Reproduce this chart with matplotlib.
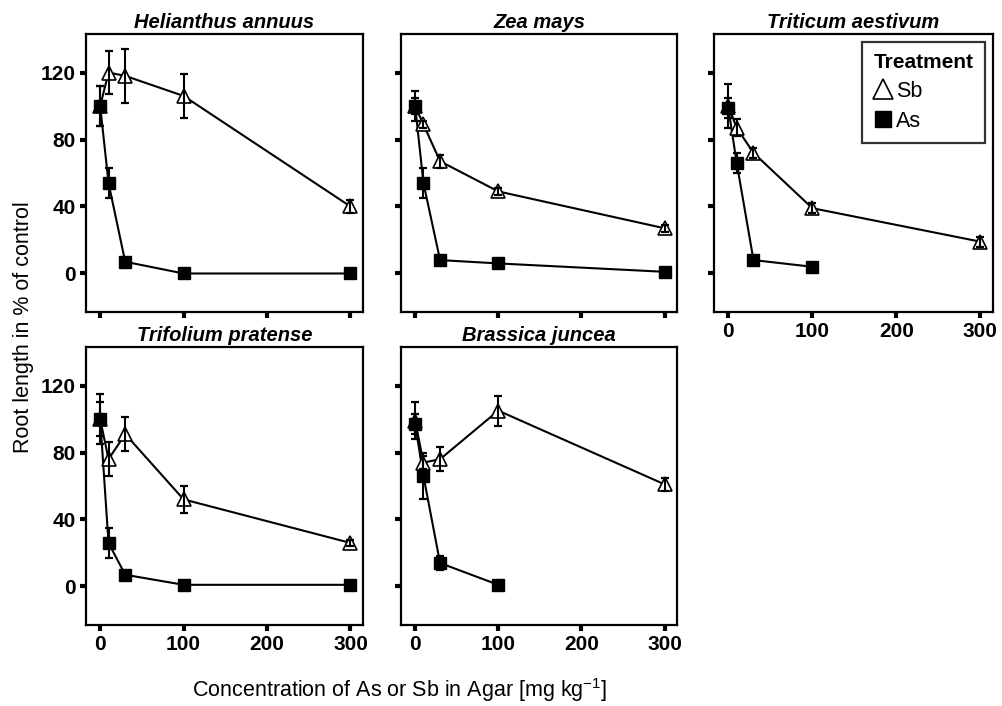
import numpy as np
import matplotlib
matplotlib.use("Agg")
import matplotlib.pyplot as plt
from matplotlib.lines import Line2D

plt.rcParams['font.family'] = ['Liberation Sans', 'DejaVu Sans']
plt.rcParams['mathtext.fontset'] = 'custom'
plt.rcParams['mathtext.rm'] = 'Liberation Sans'

conc = [0, 10, 30, 100, 300]
species = ["Helianthus annuus", "Zea mays", "Triticum aestivum",
           "Trifolium pratense", "Brassica juncea"]

nan = np.nan
sb_mean = [[100, 120, 118, 106, 40],
           [100, 89, 67, 49, 27],
           [100, 87, 72, 39, 19],
           [100, 76, 91, 52, 26],
           [99, 74, 76, 105, 61]]
sb_err = [[12, 13, 16, 13, 4],
          [9, 2, 4, 2, 2],
          [13, 5, 3, 3, 3],
          [15, 10, 10, 8, 2],
          [11, 4, 7, 9, 4]]
as_mean = [[100, 54, 7, 0, 0],
           [100, 54, 8, 6, 1],
           [99, 66, 8, 4, nan],
           [100, 26, 7, 1, 1],
           [97, 66, 14, 1, nan]]
as_err = [[12, 9, 1, 0, 0],
          [5, 9, 1, 0, 0],
          [6, 6, 1, 0, nan],
          [10, 9, 1, 0, 0],
          [6, 14, 4, 0, nan]]

yticks = [0, 40, 80, 120]
xticks = [0, 100, 200, 300]

W, H = 1002, 706
fig = plt.figure(figsize=(W / 100, H / 100), dpi=100)

cols = [(86, 363), (401, 677), (714, 993)]
rows = [(34, 312), (347, 625)]
positions = [(0, 0), (0, 1), (0, 2), (1, 0), (1, 1)]

axes = []
for i, (r, c) in enumerate(positions):
    x0, x1 = cols[c]
    y0, y1 = rows[r]
    ax = fig.add_axes([x0 / W, 1 - y1 / H, (x1 - x0) / W, (y1 - y0) / H])
    axes.append(ax)

    x = np.array(conc, dtype=float)
    sm = np.array(sb_mean[i], dtype=float)
    se = np.array(sb_err[i], dtype=float)
    am = np.array(as_mean[i], dtype=float)
    ae = np.array(as_err[i], dtype=float)

    ax.plot(x, sm, '-', color='black', lw=1.5, zorder=2)
    ax.plot(x, sm, '^', ms=10.5, mfc='white', mec='black', mew=1.2, zorder=3)
    ax.errorbar(x, sm, yerr=se, fmt='none', ecolor='black', elinewidth=1.5,
                capsize=3, capthick=1.6, zorder=4)

    ok = ~np.isnan(am)
    ax.plot(x[ok], am[ok], '-', color='black', lw=1.5, zorder=2)
    ax.plot(x[ok], am[ok], 's', ms=8.7, mfc='black', mec='black', zorder=3)
    ax.errorbar(x[ok], am[ok], yerr=ae[ok], fmt='none', ecolor='black',
                elinewidth=1.5, capsize=3, capthick=1.6, zorder=4)

    ax.set_xlim(-17, 315)
    ax.set_ylim(-23, 143)
    ax.set_xticks(xticks)
    ax.set_yticks(yticks)
    ax.tick_params(direction='out', length=4.5, width=3, labelsize=15,
                   color='black', pad=3)
    for lab in ax.get_xticklabels() + ax.get_yticklabels():
        lab.set_fontweight('bold')
    for sp in ax.spines.values():
        sp.set_linewidth(1.6)

    if c != 0:
        ax.set_yticklabels([])
    if r == 0 and c != 2:
        ax.set_xticklabels([])

    ax.set_title(species[i], fontsize=14.5, fontweight='bold', style='italic',
                 pad=4)

leg_handles = [
    Line2D([], [], ls='none', marker='^', ms=15, mfc='white', mec='black',
           mew=1.2, label='Sb'),
    Line2D([], [], ls='none', marker='s', ms=12, mfc='black', mec='black',
           label='As'),
]
leg = axes[2].legend(handles=leg_handles, title='Treatment', loc='upper right',
                     fontsize=15.5, title_fontsize=15, frameon=True, fancybox=False,
                     handlelength=0.9, handletextpad=0.15, borderpad=0.55,
                     labelspacing=0.4, borderaxespad=0.35)
leg.set_alignment('left')
leg.get_title().set_fontweight('bold')
leg.get_frame().set_edgecolor('black')
leg.get_frame().set_linewidth(1.6)

fig.text(24 / W, 1 - 327 / H, 'Root length in % of control', rotation=90,
         ha='center', va='center', fontsize=15.5)
fig.text(400 / W, 1 - 690 / H,
         r'Concentration of As or Sb in Agar [mg kg$^{\mathregular{-1}}$]',
         ha='center', va='center', fontsize=15.5)

fig.savefig('out.png', dpi=100)
